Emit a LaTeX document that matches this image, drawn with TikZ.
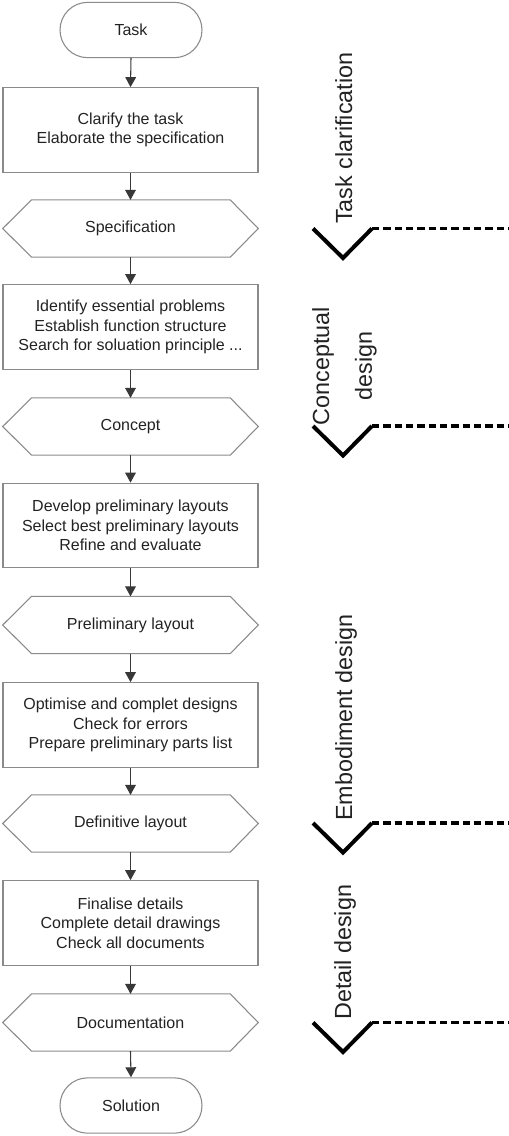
\documentclass[tikz,border=0pt]{standalone}
\usepackage{fontspec}
\setmainfont{Liberation Sans}
\usetikzlibrary{arrows.meta,shapes.misc}

\definecolor{boxline}{HTML}{8A8A8A}
\definecolor{flowline}{HTML}{383838}
\definecolor{txt}{HTML}{222222}

\begin{document}
\begin{tikzpicture}[x=0.75pt,y=-0.75pt,
  every node/.style={text=txt, font=\fontsize{12}{14.6}\selectfont, align=center, inner sep=0pt},
  termbox/.style={rounded rectangle, draw=boxline, line width=0.8pt,
    minimum width=106.5pt, minimum height=41.5pt},
  stepbox/.style={rectangle, draw=boxline, line width=0.8pt,
    minimum width=191.25pt, minimum height=63.5pt},
  hexbox/.style={rectangle, minimum width=191.25pt, minimum height=42.5pt},
  flow/.style={draw=flowline, line width=0.8pt, -{Triangle[length=7.5pt,width=8pt]}},
  hexline/.style={draw=boxline, line width=0.8pt},
  phase/.style={rotate=90, anchor=base west, font=\fontsize{17.5}{24}\selectfont},
  checkline/.style={line width=3pt, line join=miter},
  gateline/.style={line width=2.4pt, dash pattern=on 5.5pt off 3pt}
]
\useasboundingbox (0,0) rectangle (509,1136);

% main chain of steps and results
\node[termbox] (task) at (131,30) {Task};
\node[stepbox] (b1) at (130.5,130) {Clarify the task\\Elaborate the specification};
\node[hexbox] (spec) at (130.5,228.5) {Specification};
\node[stepbox] (b2) at (130.5,327) {Identify essential problems\\Establish function structure\\Search for soluation principle ...};
\node[hexbox] (concept) at (130.5,426.5) {Concept};
\node[stepbox] (b3) at (130.5,525.5) {Develop preliminary layouts\\Select best preliminary layouts\\Refine and evaluate};
\node[hexbox] (prelim) at (130.5,625) {Preliminary layout};
\node[stepbox] (b4) at (130.5,725) {Optimise and complet designs\\Check for errors\\Prepare preliminary parts list};
\node[hexbox] (defin) at (130.5,823.5) {Definitive layout};
\node[stepbox] (b5) at (130.5,923) {Finalise details\\Complete detail drawings\\Check all documents};
\node[hexbox] (docu) at (130.5,1022.5) {Documentation};
\node[termbox] (sol) at (131,1105.5) {Solution};

% result outlines (pointed on both sides)
\foreach \n in {spec,concept,prelim,defin,docu}
  \draw[hexline] (\n.west) -- ([xshift=21.5pt]\n.north west) -- ([xshift=-21pt]\n.north east)
    -- (\n.east) -- ([xshift=-21pt]\n.south east) -- ([xshift=21.5pt]\n.south west) -- cycle;

% flow arrows
\foreach \a/\b in {task/b1,b1/spec,spec/b2,b2/concept,concept/b3,b3/prelim,prelim/b4,b4/defin,defin/b5,b5/docu,docu/sol}
  \draw[flow] (\a.south) -- (\b.north);

% phase labels
\node[phase] (lbl1) at (352,224) {Task clarification};
\node[rotate=90, font=\fontsize{17.5}{32}\selectfont] (lbl2) at (344.5,366) {Conceptual\\design};
\node[phase] (lbl3) at (352,821) {Embodiment design};
\node[phase] (lbl4) at (351,1020) {Detail design};

% phase gates: check mark with dashed line
\foreach \y/\nm in {228.5/g1,426/g2,823/g3,1022.5/g4}{
  \coordinate (\nm l) at (313,\y);
  \coordinate (\nm b) at (343,\y+29.5);
  \coordinate (\nm r) at (372,\y);
  \coordinate (\nm e) at (509,\y);
  \draw[checkline] (\nm l) -- (\nm b) -- (\nm r);
  \draw[gateline] (\nm r) -- (\nm e);
}
\end{tikzpicture}
\end{document}
